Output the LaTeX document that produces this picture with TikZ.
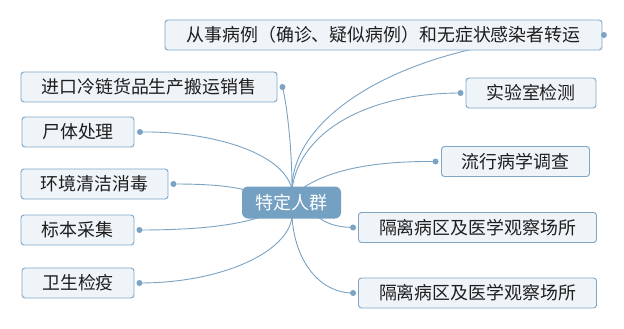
\documentclass[tikz,border=0pt]{standalone}
\usepackage{fontspec}
\newfontfamily\cjk{Noto Sans CJK SC}
\usetikzlibrary{backgrounds}
\definecolor{linec}{HTML}{7BA3C3}
\definecolor{boxfill}{HTML}{EFF4F8}
\definecolor{boxdraw}{HTML}{7FA6C5}
\definecolor{mainfill}{HTML}{74A0C1}
\definecolor{txt}{HTML}{1E1E1E}
\begin{document}
\begin{tikzpicture}[x=1pt,y=-1pt,
  leaf/.style={draw=boxdraw, fill=boxfill, line width=0.9pt, rounded corners=3pt,
    minimum height=30pt, inner sep=0pt, text=txt, font=\cjk\fontsize{17.9}{20}\selectfont},
  mainbox/.style={fill=mainfill, rounded corners=6pt, minimum width=99pt, minimum height=32pt,
    inner sep=0pt, text=white, font=\cjk\fontsize{18}{20}\selectfont},
  conn/.style={draw=linec, line width=0.9pt},
  dotm/.style={circle, fill=linec, inner sep=0pt, minimum size=6pt}]
\useasboundingbox (0,0) rectangle (624,329);

\node[mainbox] (c) at (291.5,202.5) {特定人群};

\node[leaf, minimum width=437pt] (top) at (383.5,35) {从事病例（确诊、疑似病例）和无症状感染者转运};
\node[leaf, minimum width=256pt] (b1) at (149,87) {进口冷链货品生产搬运销售};
\node[leaf, minimum width=112pt] (b2) at (78,132) {尸体处理};
\node[leaf, minimum width=147pt] (b3) at (94.5,184) {环境清洁消毒};
\node[leaf, minimum width=113pt] (b4) at (77.5,230) {标本采集};
\node[leaf, minimum width=112pt] (b5) at (78,283) {卫生检疫};
\node[leaf, minimum width=130pt] (r1) at (531,93) {实验室检测};
\node[leaf, minimum width=148pt] (r2) at (515.5,161.5) {流行病学调查};
\node[leaf, minimum width=238pt] (r3) at (477.5,227.5) {隔离病区及医学观察场所};
\node[leaf, minimum width=238pt] (r4) at (477.5,293) {隔离病区及医学观察场所};

\coordinate (ot) at (292,189);
\coordinate (ob) at (292,217);
\coordinate (ol) at (256,193);
\coordinate (obl) at (266,215);
\coordinate (or) at (300,190);
\coordinate (obr) at (314,214);

\node[dotm] (dt) at ([xshift=1.5pt]top.east) {};
\node[dotm] (d1) at ([xshift=5pt]b1.east) {};
\node[dotm] (d2) at ([xshift=5.5pt]b2.east) {};
\node[dotm] (d3) at ([xshift=5pt]b3.east) {};
\node[dotm] (d4) at ([xshift=5pt]b4.east) {};
\node[dotm] (d5) at ([xshift=5pt]b5.east) {};
\node[dotm] (e1) at ([xshift=-5pt]r1.west) {};
\node[dotm] (e2) at ([xshift=-5.5pt]r2.west) {};
\node[dotm] (e3) at ([xshift=-5pt]r3.west) {};
\node[dotm] (e4) at ([xshift=-5pt]r4.west) {};

\begin{scope}[on background layer]
\fill[white] (0,0) rectangle (624,329);
\draw[conn] (ot) .. controls (292,110) and (420,35) .. (dt.center);
\draw[conn] (ot) .. controls (292,140) and (285,95) .. (d1.center);
\draw[conn] (ot) .. controls (282,150) and (205,131) .. (d2.center);
\draw[conn] (ol) .. controls (235,186) and (210,184) .. (d3.center);
\draw[conn] (obl) .. controls (240,225) and (200,230) .. (d4.center);
\draw[conn] (ob) .. controls (288,252) and (222,283) .. (d5.center);
\draw[conn] (ot) .. controls (300,130) and (370,93) .. (e1.center);
\draw[conn] (or) .. controls (330,168) and (380,161) .. (e2.center);
\draw[conn] (obr) .. controls (326,224) and (336,227) .. (e3.center);
\draw[conn] (ob) .. controls (295,262) and (320,293) .. (e4.center);
\end{scope}
\end{tikzpicture}
\end{document}
